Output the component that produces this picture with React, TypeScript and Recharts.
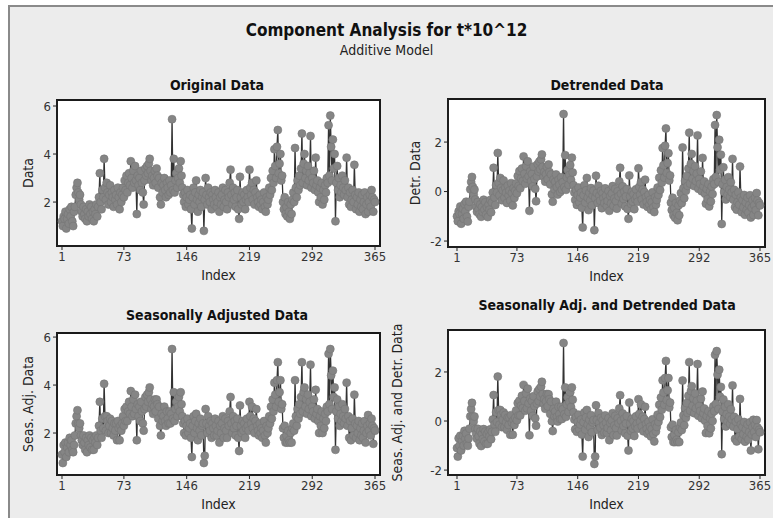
import React from 'react';
import { LineChart, Line, XAxis, YAxis, CartesianGrid, ReferenceArea } from 'recharts';

// Index ticks shared by every panel
const indexTicks = [1, 73, 146, 219, 292, 365];

// Original series (t*10^12), one value per index 1..365
const originalData = [
  1.2, 1.0, 1.4, 1.3, 1.6, 0.9, 1.3, 1.5, 1.1, 1.7,
  1.4, 1.8, 1.2, 1.0, 1.6, 1.8, 2.3, 2.6, 2.8, 2.4,
  2.1, 2.3, 1.9, 1.6, 1.4, 1.8, 1.5, 1.3, 1.7, 1.2,
  1.6, 1.4, 1.9, 1.5, 1.8, 1.3, 1.6, 1.2, 1.7, 1.5,
  1.9, 1.4, 1.8, 2.2, 3.2, 2.0, 1.7, 2.5, 2.2, 3.8,
  2.6, 2.1, 2.8, 2.4, 1.9, 2.3, 2.7, 2.0, 2.4, 2.2,
  1.8, 2.5, 2.1, 2.3, 1.9, 2.6, 2.2, 1.7, 2.4, 2.0,
  2.3, 2.6, 2.2, 2.9, 2.5, 3.1, 2.4, 2.8, 3.2, 2.7,
  3.7, 3.0, 2.6, 3.3, 2.8, 3.5, 2.9, 1.5, 3.1, 2.7,
  3.0, 2.5, 3.3, 2.8, 2.4, 1.9, 2.9, 3.4, 3.1, 3.5,
  3.2, 3.6, 3.8, 3.3, 2.9, 3.1, 2.7, 3.0, 3.3, 2.8,
  3.4, 3.1, 2.6, 3.0, 2.2, 1.9, 2.8, 2.4, 2.7, 3.0,
  2.5, 2.2, 2.8, 2.6, 2.3, 2.9, 2.4, 2.7, 5.45, 2.5,
  3.8, 2.4, 2.9, 3.2, 2.6, 3.0, 3.4, 2.8, 3.7, 3.1,
  2.6, 2.3, 2.0, 2.4, 1.8, 2.2, 2.5, 1.9, 2.1, 2.3,
  1.7, 0.9, 2.2, 2.6, 1.9, 2.4, 2.9, 2.1, 1.6, 2.3,
  2.0, 2.5, 1.8, 2.2, 2.4, 0.8, 2.1, 3.0, 2.3, 1.9,
  2.6, 2.2, 2.0, 2.4, 1.7, 2.3, 2.1, 1.9, 2.5, 2.2,
  1.8, 2.0, 2.4, 1.6, 2.2, 1.9, 2.3, 2.6, 1.8, 2.1,
  2.5, 2.0, 1.7, 2.4, 2.2, 2.8, 3.35, 2.3, 1.9, 2.6,
  2.1, 2.4, 1.8, 2.2, 2.5, 1.7, 1.3, 3.05, 2.2, 1.9,
  2.4, 2.0, 2.3, 1.7, 2.1, 2.5, 2.2, 2.0, 3.35, 2.6,
  2.3, 2.8, 2.1, 2.5, 1.9, 2.4, 2.9, 2.2, 2.0, 1.8,
  2.3, 1.9, 2.1, 1.7, 2.0, 2.4, 1.8, 1.6, 2.2, 1.9,
  2.1, 2.6, 2.3, 3.0, 2.5, 3.3, 2.8, 4.2, 3.5, 3.0,
  4.3, 5.0, 3.2, 3.6, 4.0, 2.9, 3.1, 2.0, 1.7, 2.2,
  1.5, 1.8, 1.4, 2.0, 1.6, 1.3, 1.9, 1.5, 2.1, 2.4,
  2.0, 4.25, 2.6, 2.2, 2.9, 2.5, 3.1, 2.7, 3.4, 4.85,
  2.8, 3.6, 4.0, 3.0, 3.3, 2.7, 3.5, 2.9, 3.2, 4.75,
  2.6, 3.0, 2.8, 3.3, 2.5, 3.85, 2.7, 2.9, 2.4, 2.0,
  2.6, 2.2, 2.8, 1.9, 2.5, 2.1, 2.7, 2.4, 3.0, 2.8,
  5.2, 3.1, 5.6, 4.3, 2.9, 4.6, 3.4, 4.0, 1.2, 2.8,
  3.5, 2.5, 3.0, 2.2, 2.7, 2.4, 3.1, 2.6, 2.3, 2.9,
  2.5, 3.85, 2.2, 2.6, 1.9, 2.4, 1.8, 2.1, 2.5, 2.0,
  3.55, 2.3, 1.7, 2.2, 1.9, 2.4, 1.6, 2.1, 1.8, 2.3,
  1.7, 2.0, 2.4, 1.5, 1.9, 2.2, 1.6, 2.0, 2.3, 1.8,
  2.5, 2.2, 1.6, 2.1, 2.0,
];

const detrendedData = [
  -1.0, -1.2, -0.8, -0.9, -0.6, -1.3, -0.9, -0.7, -1.1, -0.5,
  -0.81, -0.41, -1.01, -1.21, -0.61, -0.41, 0.09, 0.39, 0.59, 0.19,
  -0.12, 0.08, -0.32, -0.62, -0.82, -0.42, -0.72, -0.92, -0.52, -1.02,
  -0.63, -0.83, -0.33, -0.73, -0.43, -0.93, -0.63, -1.03, -0.53, -0.73,
  -0.34, -0.84, -0.44, -0.04, 0.96, -0.24, -0.54, 0.26, -0.04, 1.56,
  0.35, -0.15, 0.55, 0.15, -0.35, 0.05, 0.45, -0.25, 0.15, -0.05,
  -0.46, 0.24, -0.16, 0.04, -0.36, 0.34, -0.06, -0.56, 0.14, -0.26,
  0.03, 0.33, -0.07, 0.63, 0.23, 0.83, 0.13, 0.53, 0.93, 0.43,
  1.42, 0.72, 0.32, 1.02, 0.52, 1.22, 0.62, -0.78, 0.82, 0.42,
  0.71, 0.21, 1.01, 0.51, 0.11, -0.39, 0.61, 1.11, 0.81, 1.21,
  0.9, 1.3, 1.5, 1.0, 0.6, 0.8, 0.4, 0.7, 1.0, 0.5,
  1.09, 0.79, 0.29, 0.69, -0.11, -0.41, 0.49, 0.09, 0.39, 0.69,
  0.18, -0.12, 0.48, 0.28, -0.02, 0.58, 0.08, 0.38, 3.13, 0.18,
  1.47, 0.07, 0.57, 0.87, 0.27, 0.67, 1.07, 0.47, 1.37, 0.77,
  0.26, -0.04, -0.34, 0.06, -0.54, -0.14, 0.16, -0.44, -0.24, -0.04,
  -0.65, -1.45, -0.15, 0.25, -0.45, 0.05, 0.55, -0.25, -0.75, -0.05,
  -0.36, 0.14, -0.56, -0.16, 0.04, -1.56, -0.26, 0.64, -0.06, -0.46,
  0.23, -0.17, -0.37, 0.03, -0.67, -0.07, -0.27, -0.47, 0.13, -0.17,
  -0.58, -0.38, 0.02, -0.78, -0.18, -0.48, -0.08, 0.22, -0.58, -0.28,
  0.11, -0.39, -0.69, 0.01, -0.19, 0.41, 0.96, -0.09, -0.49, 0.21,
  -0.3, 0.0, -0.6, -0.2, 0.1, -0.7, -1.1, 0.65, -0.2, -0.5,
  -0.01, -0.41, -0.11, -0.71, -0.31, 0.09, -0.21, -0.41, 0.94, 0.19,
  -0.12, 0.38, -0.32, 0.08, -0.52, -0.02, 0.48, -0.22, -0.42, -0.62,
  -0.13, -0.53, -0.33, -0.73, -0.43, -0.03, -0.63, -0.83, -0.23, -0.53,
  -0.34, 0.16, -0.14, 0.56, 0.06, 0.86, 0.36, 1.76, 1.06, 0.56,
  1.85, 2.55, 0.75, 1.15, 1.55, 0.45, 0.65, -0.45, -0.75, -0.25,
  -0.96, -0.66, -1.06, -0.46, -0.86, -1.16, -0.56, -0.96, -0.36, -0.06,
  -0.47, 1.78, 0.13, -0.27, 0.43, 0.03, 0.63, 0.23, 0.93, 2.38,
  0.32, 1.12, 1.52, 0.52, 0.82, 0.22, 1.02, 0.42, 0.72, 2.27,
  0.11, 0.51, 0.31, 0.81, 0.01, 1.36, 0.21, 0.41, -0.09, -0.49,
  0.1, -0.3, 0.3, -0.6, 0.0, -0.4, 0.2, -0.1, 0.5, 0.3,
  2.69, 0.59, 3.09, 1.79, 0.39, 2.09, 0.89, 1.49, -1.31, 0.29,
  0.98, -0.02, 0.48, -0.32, 0.18, -0.12, 0.58, 0.08, -0.22, 0.38,
  -0.03, 1.32, -0.33, 0.07, -0.63, -0.13, -0.73, -0.43, -0.03, -0.53,
  1.01, -0.24, -0.84, -0.34, -0.64, -0.14, -0.94, -0.44, -0.74, -0.24,
  -0.85, -0.55, -0.15, -1.05, -0.65, -0.35, -0.95, -0.55, -0.25, -0.75,
  -0.06, -0.36, -0.96, -0.46, -0.56,
];

const seasAdjData = [
  1.1, 0.75, 1.5, 1.2, 1.6, 1.0, 1.4, 1.6, 1.2, 1.8,
  1.5, 1.7, 1.3, 1.2, 1.5, 1.9, 2.4, 2.7, 2.95, 2.4,
  2.2, 2.4, 1.9, 1.7, 1.5, 1.9, 1.6, 1.3, 1.8, 1.2,
  1.7, 1.5, 1.9, 1.4, 1.8, 1.3, 1.7, 1.3, 1.8, 1.6,
  1.9, 1.5, 1.8, 2.3, 3.3, 2.1, 1.8, 2.6, 2.2, 4.05,
  2.7, 2.1, 2.7, 2.5, 2.0, 2.3, 2.6, 2.0, 2.5, 2.2,
  1.9, 2.4, 2.1, 2.4, 1.7, 2.5, 2.2, 1.7, 2.3, 2.1,
  2.4, 2.7, 2.3, 3.0, 2.5, 3.1, 2.5, 2.9, 3.3, 2.8,
  3.75, 3.1, 2.7, 3.4, 2.8, 3.6, 3.0, 1.7, 3.2, 2.7,
  3.1, 2.5, 3.3, 2.9, 2.4, 2.1, 3.0, 3.5, 3.1, 3.6,
  3.3, 3.7, 3.9, 3.4, 3.0, 3.2, 2.8, 3.1, 3.4, 2.9,
  3.4, 3.2, 2.6, 3.1, 2.3, 1.9, 2.8, 2.5, 2.7, 3.1,
  2.5, 2.3, 2.9, 2.6, 2.4, 2.9, 2.4, 2.8, 5.5, 2.6,
  3.7, 2.5, 3.0, 3.3, 2.7, 3.1, 3.5, 2.9, 3.7, 3.2,
  2.7, 2.4, 2.0, 2.5, 1.9, 2.3, 2.6, 2.0, 2.2, 2.4,
  1.8, 1.0, 2.3, 2.7, 2.0, 2.5, 2.8, 2.2, 1.7, 2.4,
  2.1, 2.6, 1.9, 2.3, 2.4, 0.75, 1.05, 3.0, 2.4, 2.0,
  2.7, 2.3, 2.1, 2.5, 1.8, 2.4, 2.2, 1.9, 2.6, 2.3,
  1.9, 2.1, 2.5, 1.6, 2.3, 2.0, 2.4, 2.7, 1.8, 2.2,
  2.6, 2.1, 1.8, 2.5, 2.3, 2.9, 3.5, 2.4, 2.0, 2.7,
  2.2, 2.5, 1.9, 2.3, 2.6, 1.8, 1.25, 3.15, 2.3, 2.0,
  2.5, 2.1, 2.4, 1.8, 2.2, 2.6, 2.3, 2.1, 3.3, 2.7,
  2.4, 3.1, 2.2, 2.6, 2.0, 2.5, 3.0, 2.3, 2.1, 1.9,
  2.4, 2.0, 2.2, 1.8, 2.1, 2.5, 1.9, 1.6, 2.3, 2.0,
  2.2, 2.7, 2.4, 3.1, 2.6, 3.4, 2.9, 4.1, 3.6, 3.1,
  4.2, 4.95, 3.3, 3.7, 4.2, 3.0, 3.2, 2.2, 1.8, 2.3,
  1.6, 1.9, 1.6, 2.1, 1.7, 1.6, 2.0, 1.6, 2.2, 2.4,
  2.1, 4.2, 2.7, 2.3, 3.0, 2.6, 3.2, 2.8, 3.5, 4.95,
  2.9, 3.7, 3.9, 3.1, 3.4, 2.8, 3.6, 3.0, 3.3, 4.85,
  2.7, 3.1, 2.9, 3.4, 2.6, 3.8, 2.8, 3.0, 2.5, 2.0,
  2.7, 2.3, 2.9, 2.0, 2.6, 2.2, 2.8, 2.5, 3.1, 2.9,
  5.3, 3.2, 5.5, 4.4, 3.0, 4.6, 3.5, 3.9, 1.3, 2.9,
  3.4, 2.6, 3.1, 2.3, 2.8, 2.5, 3.2, 2.7, 2.4, 3.0,
  2.6, 4.1, 2.3, 2.7, 1.8, 2.5, 1.7, 2.2, 2.6, 1.9,
  3.6, 2.4, 1.8, 2.3, 2.0, 2.5, 1.7, 2.2, 1.9, 2.4,
  1.8, 2.1, 2.5, 1.6, 2.0, 2.3, 2.75, 2.1, 2.4, 1.9,
  2.6, 2.3, 1.55, 2.2, 2.1,
];

const seasAdjDetrData = [
  -1.1, -1.45, -0.7, -1.0, -0.6, -1.2, -0.8, -0.6, -1.0, -0.4,
  -0.71, -0.51, -0.91, -1.01, -0.71, -0.31, 0.19, 0.49, 0.74, 0.19,
  -0.02, 0.18, -0.32, -0.52, -0.72, -0.32, -0.62, -0.92, -0.42, -1.02,
  -0.53, -0.73, -0.33, -0.83, -0.43, -0.93, -0.53, -0.93, -0.43, -0.63,
  -0.34, -0.74, -0.44, 0.06, 1.06, -0.14, -0.44, 0.36, -0.04, 1.81,
  0.45, -0.15, 0.45, 0.25, -0.25, 0.05, 0.35, -0.25, 0.25, -0.05,
  -0.36, 0.14, -0.16, 0.14, -0.56, 0.24, -0.06, -0.56, 0.04, -0.16,
  0.13, 0.43, 0.03, 0.73, 0.23, 0.83, 0.23, 0.63, 1.03, 0.53,
  1.47, 0.82, 0.42, 1.12, 0.52, 1.32, 0.72, -0.58, 0.92, 0.42,
  0.81, 0.21, 1.01, 0.61, 0.11, -0.19, 0.71, 1.21, 0.81, 1.31,
  1.0, 1.4, 1.6, 1.1, 0.7, 0.9, 0.5, 0.8, 1.1, 0.6,
  1.09, 0.89, 0.29, 0.79, -0.01, -0.41, 0.49, 0.19, 0.39, 0.79,
  0.18, -0.02, 0.58, 0.28, 0.08, 0.58, 0.08, 0.48, 3.18, 0.28,
  1.37, 0.17, 0.67, 0.97, 0.37, 0.77, 1.17, 0.57, 1.37, 0.87,
  0.36, 0.06, -0.34, 0.16, -0.44, -0.04, 0.26, -0.34, -0.14, 0.06,
  -0.55, -1.45, -0.05, 0.35, -0.35, 0.15, 0.45, -0.15, -0.65, 0.05,
  -0.26, 0.24, -0.46, -0.06, 0.04, -1.75, -1.45, 0.64, 0.04, -0.36,
  0.33, -0.07, -0.27, 0.13, -0.57, 0.03, -0.17, -0.47, 0.23, -0.07,
  -0.48, -0.28, 0.12, -0.78, -0.08, -0.38, 0.02, 0.32, -0.58, -0.18,
  0.21, -0.29, -0.59, 0.11, -0.09, 0.51, 1.05, 0.01, -0.39, 0.31,
  -0.2, 0.1, -0.5, -0.1, 0.2, -0.6, -1.2, 0.75, -0.1, -0.4,
  0.09, -0.31, -0.01, -0.61, -0.21, 0.19, -0.11, -0.31, 0.89, 0.29,
  -0.02, 0.68, -0.22, 0.18, -0.42, 0.08, 0.58, -0.12, -0.32, -0.52,
  -0.03, -0.43, -0.23, -0.63, -0.33, 0.07, -0.53, -0.83, -0.13, -0.43,
  -0.24, 0.26, -0.04, 0.66, 0.16, 0.96, 0.46, 1.66, 1.16, 0.66,
  1.75, 2.45, 0.85, 1.25, 1.75, 0.55, 0.75, -0.25, -0.65, -0.15,
  -0.86, -0.56, -0.86, -0.36, -0.76, -0.86, -0.46, -0.86, -0.26, -0.06,
  -0.37, 1.65, 0.23, -0.17, 0.53, 0.13, 0.73, 0.33, 1.03, 2.4,
  0.42, 1.22, 1.42, 0.62, 0.92, 0.32, 1.12, 0.52, 0.82, 2.32,
  0.21, 0.61, 0.41, 0.91, 0.11, 1.2, 0.31, 0.51, 0.01, -0.49,
  0.2, -0.2, 0.4, -0.5, 0.1, -0.3, 0.3, 0.0, 0.6, 0.4,
  2.7, 0.69, 2.85, 1.89, 0.49, 2.09, 0.99, 1.39, -1.35, 0.39,
  0.88, 0.08, 0.58, -0.22, 0.28, -0.02, 0.68, 0.18, -0.12, 0.48,
  0.07, 1.45, -0.23, 0.17, -0.73, -0.03, -0.83, -0.33, 0.07, -0.63,
  0.9, -0.14, -0.74, -0.24, -0.54, -0.04, -0.84, -0.34, -0.64, -0.14,
  -0.75, -0.45, -0.05, -1.2, -0.55, -0.25, 0.05, -0.45, -0.15, -0.65,
  0.04, -0.26, -1.15, -0.36, -0.46,
];

const FONT = "'DejaVu Sans Condensed', 'Liberation Sans', Arial, sans-serif";

const toRows = (vals: number[]) => vals.map((v, i) => ({ index: i + 1, value: v }));

interface PanelProps {
  values: number[];
  title: string;
  yLabel: string;
  yTicks: number[];
  yDomain: [number, number];
  xDomain: [number, number];
  left: number;      // chart left on page
  top: number;       // chart top on page
  yAxisWidth: number;
  plotWidth: number;
  plotHeight: number;
  labelOffset: number;
  titleCenter: number;
  titleTop: number;
}

function Panel(p: PanelProps) {
  const marginTop = 20;
  const marginRight = 8;
  const xAxisHeight = 36;
  const marginBottom = 4;
  const width = p.yAxisWidth + p.plotWidth + marginRight;
  const height = marginTop + p.plotHeight + xAxisHeight + marginBottom;
  return (
    <>
      <div
        style={{
          position: 'absolute',
          left: p.titleCenter - 200,
          width: 400,
          top: p.titleTop,
          textAlign: 'center',
          fontFamily: FONT,
          fontWeight: 'bold',
          fontSize: 14,
          color: '#111',
          lineHeight: '16px',
        }}
      >
        {p.title}
      </div>
      <div style={{ position: 'absolute', left: p.left, top: p.top }}>
        <LineChart
          width={width}
          height={height}
          data={toRows(p.values)}
          margin={{ top: marginTop, right: marginRight, left: 0, bottom: marginBottom }}
        >
          <CartesianGrid fill="#ffffff" horizontal={false} vertical={false} />
          <XAxis
            dataKey="index"
            type="number"
            domain={p.xDomain}
            ticks={indexTicks}
            allowDataOverflow
            height={xAxisHeight}
            tickSize={4}
            tickMargin={2}
            stroke="#222"
            tick={{ fill: '#333', fontSize: 13, fontFamily: FONT }}
            label={{ value: 'Index', position: 'insideBottom', offset: 2, fill: '#222', fontSize: 14, fontFamily: FONT }}
          />
          <YAxis
            type="number"
            domain={p.yDomain}
            ticks={p.yTicks}
            allowDataOverflow
            width={p.yAxisWidth}
            tickSize={4}
            tickMargin={2}
            stroke="#222"
            tick={{ fill: '#333', fontSize: 13, fontFamily: FONT }}
            label={{
              value: p.yLabel,
              angle: -90,
              position: 'insideLeft',
              offset: p.labelOffset,
              fill: '#222',
              fontSize: 14,
              fontFamily: FONT,
              style: { textAnchor: 'middle' },
            }}
          />
          <ReferenceArea
            x1={p.xDomain[0]}
            x2={p.xDomain[1]}
            y1={p.yDomain[0]}
            y2={p.yDomain[1]}
            fill="none"
            stroke="#1a1a1a"
            strokeWidth={2}
            ifOverflow="visible"
          />
          <Line
            type="linear"
            dataKey="value"
            stroke="#333333"
            strokeWidth={1.3}
            dot={{ r: 4, fill: '#858585', stroke: '#767676', strokeWidth: 0.6 }}
            isAnimationActive={false}
          />
        </LineChart>
      </div>
    </>
  );
}

export default function App() {
  return (
    <div
      style={{
        position: 'absolute',
        left: 0,
        top: 0,
        width: 773,
        height: 518,
        overflow: 'hidden',
        background: '#ffffff',
      }}
    >
      <div
        style={{
          position: 'absolute',
          left: 8,
          top: 5,
          width: 800,
          height: 600,
          background: '#ececec',
          borderLeft: '2px solid #8a8a8a',
          borderTop: '2px solid #8a8a8a',
        }}
      />
      <div
        style={{
          position: 'absolute',
          left: 0,
          width: 773,
          top: 20,
          textAlign: 'center',
          fontFamily: FONT,
          fontWeight: 'bold',
          fontSize: 17,
          color: '#111',
          lineHeight: '20px',
        }}
      >
        Component Analysis for t*10^12
      </div>
      <div
        style={{
          position: 'absolute',
          left: 0,
          width: 773,
          top: 42,
          textAlign: 'center',
          fontFamily: FONT,
          fontSize: 14,
          color: '#222',
          lineHeight: '16px',
        }}
      >
        Additive Model
      </div>

      <Panel
        values={originalData}
        title="Original Data"
        yLabel="Data"
        yTicks={[2, 4, 6]}
        yDomain={[0.17, 6.25]}
        xDomain={[-4.8, 370.8]}
        left={0}
        top={80}
        yAxisWidth={57}
        plotWidth={323}
        plotHeight={146}
        labelOffset={28}
        titleCenter={217}
        titleTop={77}
      />
      <Panel
        values={detrendedData}
        title="Detrended Data"
        yLabel="Detr. Data"
        yTicks={[-2, 0, 2]}
        yDomain={[-2.24, 3.74]}
        xDomain={[-9.8, 371]}
        left={385}
        top={79}
        yAxisWidth={63}
        plotWidth={317}
        plotHeight={148}
        labelOffset={30}
        titleCenter={607}
        titleTop={77}
      />
      <Panel
        values={seasAdjData}
        title="Seasonally Adjusted Data"
        yLabel="Seas. Adj. Data"
        yTicks={[2, 4, 6]}
        yDomain={[0.25, 6.17]}
        xDomain={[-4.8, 370.8]}
        left={0}
        top={313}
        yAxisWidth={57}
        plotWidth={323}
        plotHeight={142}
        labelOffset={28}
        titleCenter={217}
        titleTop={307}
      />
      <Panel
        values={seasAdjDetrData}
        title="Seasonally Adj. and Detrended Data"
        yLabel="Seas. Adj. and Detr. Data"
        yTicks={[-2, 0, 2]}
        yDomain={[-2.2, 3.71]}
        xDomain={[-9.8, 371]}
        left={385}
        top={310}
        yAxisWidth={63}
        plotWidth={317}
        plotHeight={145}
        labelOffset={12}
        titleCenter={607}
        titleTop={297}
      />
    </div>
  );
}
